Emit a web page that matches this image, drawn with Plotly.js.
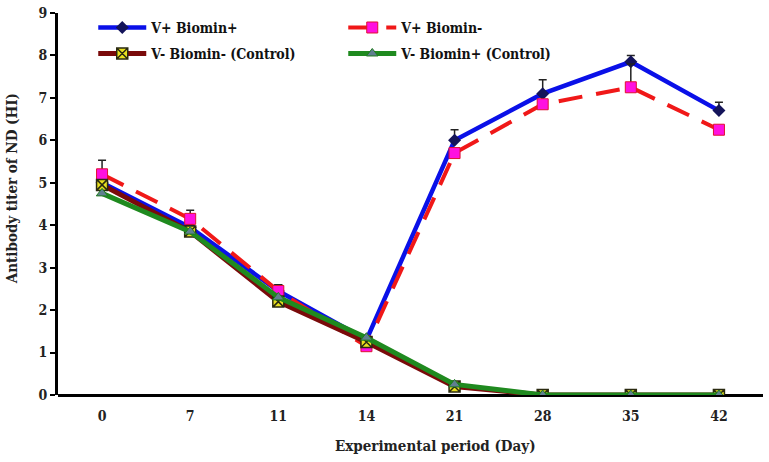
<!DOCTYPE html>
<html>
<head>
<meta charset="utf-8">
<script src="https://cdn.plot.ly/plotly-3.0.1.min.js"></script>
<style>html,body{margin:0;padding:0;background:#fff;}#chart{width:769px;height:462px;}</style>
</head>
<body>
<div id="chart"></div>
<script>
const days = ["0", "7", "11", "14", "21", "28", "35", "42"];
const vPlusBiominPlus = [5.0, 3.95, 2.45, 1.3, 6.0, 7.1, 7.85, 6.7];
const vPlusBiominPlusErr = [0.0, 0.0, 0.15, 0.0, 0.25, 0.33, 0.15, 0.2];
const vPlusBiominMinus = [5.2, 4.15, 2.45, 1.15, 5.7, 6.85, 7.25, 6.25];
const vPlusBiominMinusErr = [0.33, 0.2, 0.15, 0.0, 0.0, 0.0, 0.55, 0.0];
const vMinusBiominMinus = [4.95, 3.85, 2.2, 1.25, 0.2, 0.0, 0.0, 0.0];
const vMinusBiominPlus = [4.75, 3.85, 2.3, 1.35, 0.25, 0.0, 0.0, 0.0];
const yTicks = [0, 1, 2, 3, 4, 5, 6, 7, 8, 9];

const FONT = "DejaVu Serif Condensed, DejaVu Serif, serif";
const zeros = days.map(() => 0);
function err(arr) {
  return {type: "data", symmetric: false, array: arr, arrayminus: zeros, color: "#222", thickness: 1.5, width: 4};
}

const traces = [
  {x: days, y: vPlusBiominPlus, name: "V+ Biomin+", type: "scatter", mode: "lines+markers",
   line: {color: "#0a10e8", width: 4.5}, marker: {symbol: "diamond", size: 10, color: "#14145a"},
   error_y: err(vPlusBiominPlusErr), legend: "legend"},
  {x: days, y: vPlusBiominMinus, name: "V+ Biomin-", type: "scatter", mode: "lines+markers",
   line: {color: "#f01818", width: 4, dash: "24px,14px"}, marker: {symbol: "square", size: 11, color: "#ff10e0", line: {color: "#e01030", width: 1}},
   error_y: err(vPlusBiominMinusErr), legend: "legend"},
  {x: days, y: vMinusBiominMinus, name: "V- Biomin- (Control)", type: "scatter", mode: "lines+markers",
   line: {color: "#7a0a0a", width: 5}, marker: {symbol: "square-x", size: 11, color: "#e8e020", line: {color: "#2a2a10", width: 1.5}},
   legend: "legend2"},
  {x: days, y: vMinusBiominPlus, name: "V- Biomin+ (Control)", type: "scatter", mode: "lines+markers",
   line: {color: "#1f8a1f", width: 5}, marker: {symbol: "triangle-up", size: 10, color: "#5f7f8f", line: {color: "#1f7a1f", width: 1}},
   legend: "legend2"}
];

const legendCommon = {
  orientation: "h", xref: "paper", yref: "paper", x: 0.05, xanchor: "left", yanchor: "middle",
  entrywidth: 187, entrywidthmode: "pixels", itemwidth: 48,
  font: {family: FONT, size: 14, color: "#111", weight: "bold"}, bgcolor: "rgba(0,0,0,0)"
};

const layout = {
  width: 769, height: 462,
  margin: {l: 58, r: 6, t: 13, b: 67},
  paper_bgcolor: "#fff", plot_bgcolor: "#fff",
  font: {family: FONT, size: 14, color: "#222", weight: "bold"},
  xaxis: {
    type: "category", range: [-0.5, 7.5], showgrid: false, zeroline: false,
    showline: false, ticks: "", ticklabelstandoff: 11,
    tickfont: {family: FONT, size: 14, color: "#222", weight: "bold"}
  },
  yaxis: {
    range: [0, 9], tickvals: yTicks, showgrid: false, zeroline: true, zerolinecolor: "#000", zerolinewidth: 3,
    showline: true, linecolor: "#000", linewidth: 3, ticks: "outside", ticklen: 5, tickwidth: 2, tickcolor: "#000",
    tickfont: {family: FONT, size: 14, color: "#222", weight: "bold"}
  },
  showlegend: true,
  legend: Object.assign({}, legendCommon, {y: 0.961}),
  legend2: Object.assign({}, legendCommon, {y: 0.893}),
  annotations: [
    {text: "Experimental period (Day)", xref: "paper", yref: "paper", x: 0.535, y: -0.1335,
     xanchor: "center", yanchor: "middle", showarrow: false,
     font: {family: FONT, size: 15, color: "#222", weight: "bold"}},
    {text: "Antibody titer of ND (HI)", xref: "paper", yref: "paper", x: -0.066, y: 0.54,
     xanchor: "center", yanchor: "middle", showarrow: false, textangle: -90,
     font: {family: FONT, size: 15, color: "#222", weight: "bold"}}
  ]
};

Plotly.newPlot("chart", traces, layout, {displayModeBar: false, staticPlot: true});
</script>
</body>
</html>
